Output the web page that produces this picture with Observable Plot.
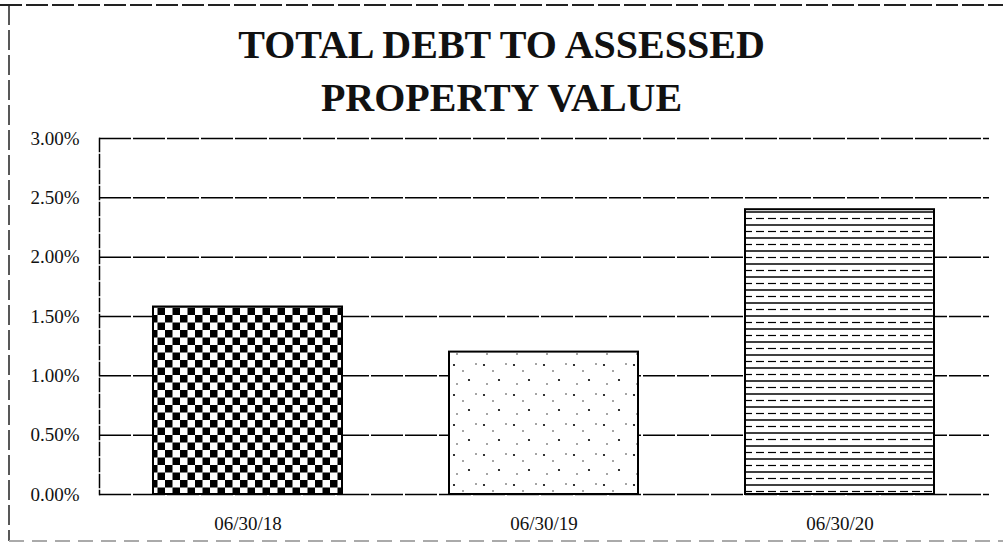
<!DOCTYPE html>
<html>
<head>
<meta charset="utf-8">
<script src="https://cdn.jsdelivr.net/npm/d3@7"></script>
<script src="https://cdn.jsdelivr.net/npm/@observablehq/plot@0.6"></script>
<style>
  html, body { margin: 0; padding: 0; background: #fff; }
  #page { position: relative; width: 1003px; height: 546px; overflow: hidden; background: #fff; }
  #title { position: absolute; left: 0; top: 18px; width: 1003px; text-align: center;
    font-family: "Liberation Serif", "Times New Roman", serif; font-weight: bold;
    font-size: 40px; line-height: 53px; color: #111; }
  #chart { position: absolute; left: 0; top: 120px; }
  #frame { position: absolute; left: 0; top: 0; }
</style>
</head>
<body>
<div id="page">
  <svg id="frame" width="1003" height="546">
    <defs>
      <pattern id="checker" patternUnits="userSpaceOnUse" width="15" height="15">
        <rect width="15" height="15" fill="#fff"/>
        <rect x="0" y="0" width="7.5" height="7.5" fill="#000"/>
        <rect x="7.5" y="7.5" width="7.5" height="7.5" fill="#000"/>
      </pattern>
      <pattern id="dots" patternUnits="userSpaceOnUse" width="30" height="30">
        <rect width="30" height="30" fill="#fff"/>
        <circle cx="4" cy="5" r="1.1" fill="#000"/>
        <circle cx="19" cy="20" r="1.1" fill="#000"/>
        <circle cx="13" cy="11" r="0.8" fill="#333"/>
        <circle cx="26" cy="4" r="0.8" fill="#333"/>
        <circle cx="7" cy="24" r="0.8" fill="#333"/>
      </pattern>
      <pattern id="hlines" patternUnits="userSpaceOnUse" width="12" height="13">
        <rect width="12" height="13" fill="#fff"/>
        <line x1="0" x2="12" y1="1" y2="1" stroke="#000" stroke-width="1.5"/>
        <line x1="0" x2="12" y1="7.5" y2="7.5" stroke="#000" stroke-width="1.2" stroke-dasharray="8 4"/>
      </pattern>
    </defs>
    <line x1="0" x2="1003" y1="5" y2="5" stroke="#222" stroke-width="2" stroke-dasharray="22 4"/>
    <line x1="9" x2="9" y1="5" y2="541" stroke="#222" stroke-width="1.5" stroke-dasharray="20 5"/>
    <line x1="9" x2="1003" y1="541" y2="541" stroke="#aaa" stroke-width="2" stroke-dasharray="15 8"/>
  </svg>
  <div id="title">TOTAL DEBT TO ASSESSED<br>PROPERTY VALUE</div>
  <div id="chart"></div>
</div>
<script>
const dates = ["06/30/18", "06/30/19", "06/30/20"];
const ratios = [0.0158, 0.0120, 0.0240];
const yTicks = [0, 0.005, 0.01, 0.015, 0.02, 0.025, 0.03];
const patterns = ["url(#checker)", "url(#dots)", "url(#hlines)"];

const data = dates.map((d, i) => ({date: d, ratio: ratios[i]}));
const fmt = d3.format(".2%");

const chart = Plot.plot({
  width: 1003,
  height: 426,
  marginTop: 18,
  marginBottom: 52,
  marginLeft: 99,
  marginRight: 14,
  style: {fontFamily: "'Liberation Serif', 'Times New Roman', serif", fontSize: "19px", color: "#111", background: "transparent"},
  x: {domain: dates, paddingInner: 0.36, paddingOuter: 0.18, label: null},
  y: {domain: [0, 0.03], label: null},
  color: {type: "ordinal", domain: dates, range: patterns},
  marks: [
    Plot.ruleY(yTicks, {stroke: "#000", strokeWidth: 1.5, strokeDasharray: "32 2"}),
    Plot.frame({anchor: "left", stroke: "#000", strokeWidth: 1.5, strokeDasharray: "13 3"}),
    Plot.barY(data, {x: "date", y: "ratio", fill: "date", stroke: "#000", strokeWidth: 2}),
    Plot.axisY(yTicks, {tickSize: 0, tickPadding: 20, tickFormat: fmt, label: null, fontSize: 19}),
    Plot.axisX({tickSize: 0, tickPadding: 22, label: null, fontSize: 19})
  ]
});
document.getElementById("chart").appendChild(chart);
</script>
</body>
</html>
